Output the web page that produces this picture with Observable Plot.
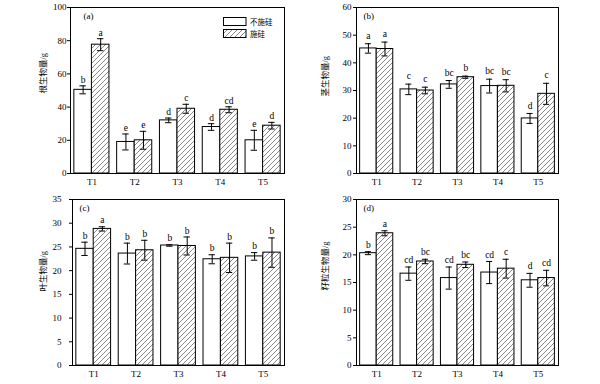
<!DOCTYPE html>
<html>
<head>
<meta charset="utf-8">
<script src="https://cdn.jsdelivr.net/npm/d3@7"></script>
<script src="https://cdn.jsdelivr.net/npm/@observablehq/plot@0.6"></script>
<style>
  html, body { margin: 0; padding: 0; background: white; }
  #chart { position: relative; width: 600px; height: 384px; background: white; overflow: hidden; }
  #chart svg.panel { position: absolute; }
  #legend { position: absolute; left: 223px; top: 15px; font-family: "Liberation Serif", "Noto Sans CJK SC", serif; font-size: 7.5px; color: black; }
</style>
</head>
<body>
<div id="chart"></div>
<script>
// ---------- data ----------
const groups = ["T1", "T2", "T3", "T4", "T5"];
const seriesNames = ["不施硅", "施硅"];

// (a) root
const rootNo = [50.4, 19.0, 32.0, 28.0, 20.0];
const rootNoErr = [2.4, 4.8, 1.4, 2.0, 6.0];
const rootSi = [77.6, 20.0, 39.0, 38.4, 28.8];
const rootSiErr = [3.6, 5.4, 2.7, 1.8, 2.0];
const rootNoSig = ["b", "e", "d", "d", "e"];
const rootSiSig = ["a", "e", "c", "cd", "d"];
const rootTicks = [0, 20, 40, 60, 80, 100];

// (b) stem
const stemNo = [45.2, 30.4, 32.2, 31.6, 19.9];
const stemNoErr = [1.7, 1.9, 1.4, 2.5, 1.8];
const stemSi = [45.0, 30.0, 34.8, 31.7, 28.8];
const stemSiErr = [2.5, 1.2, 0.4, 2.2, 3.8];
const stemNoSig = ["a", "c", "bc", "bc", "d"];
const stemSiSig = ["a", "c", "b", "bc", "c"];
const stemTicks = [0, 10, 20, 30, 40, 50, 60];

// (c) leaf
const leafNo = [24.6, 23.6, 25.3, 22.4, 23.0];
const leafNoErr = [1.4, 2.2, 0.15, 0.95, 0.8];
const leafSi = [28.8, 24.3, 25.2, 22.7, 23.8];
const leafSiErr = [0.45, 2.1, 1.9, 3.1, 3.1];
const leafNoSig = ["b", "b", "b", "b", "b"];
const leafSiSig = ["a", "b", "b", "b", "b"];
const leafTicks = [0, 5, 10, 15, 20, 25, 30, 35];

// (d) grain
const grainNo = [20.3, 16.6, 15.8, 16.8, 15.4];
const grainNoErr = [0.27, 1.2, 2.0, 2.0, 1.25];
const grainSi = [23.9, 18.8, 18.2, 17.5, 15.8];
const grainSiErr = [0.45, 0.4, 0.5, 1.7, 1.4];
const grainNoSig = ["b", "cd", "cd", "cd", "d"];
const grainSiSig = ["a", "bc", "bc", "c", "cd"];
const grainTicks = [0, 5, 10, 15, 20, 25, 30];

const titles = ["根生物量/g", "茎生物量/g", "叶生物量/g", "籽粒生物量/g"];
const tags = ["(a)", "(b)", "(c)", "(d)"];

// ---------- drawing ----------
const FONT = '"Liberation Serif", "Noto Sans CJK SC", serif';
const chart = document.getElementById("chart");

function panel(cfg) {
  const f = 0.41;      // bar width in band units
  const cap = 0.075;   // half cap width
  const rows = [];
  groups.forEach((g, i) => {
    const c = i + 0.5;
    rows.push({g, s: 0, v: cfg.no[i], e: cfg.noErr[i], sig: cfg.noSig[i], x1: c - f, x2: c, m: c - f / 2});
    rows.push({g, s: 1, v: cfg.si[i], e: cfg.siErr[i], sig: cfg.siSig[i], x1: c, x2: c + f, m: c + f / 2});
  });
  const no = rows.filter(d => d.s === 0), si = rows.filter(d => d.s === 1);
  const ticks = cfg.ticks;
  const svg = Plot.plot({
    width: 300, height: 192,
    marginLeft: cfg.ml, marginRight: cfg.mr, marginTop: 7, marginBottom: 19,
    style: {fontFamily: FONT, fontSize: "9px", background: "white", color: "black", overflow: "visible"},
    x: {domain: [0, groups.length], ticks: groups.map((g, i) => i + 0.5), tickFormat: d => groups[Math.floor(d)], tickSize: 0, tickPadding: 5, label: null},
    y: {domain: [ticks[0], ticks[ticks.length - 1]], ticks: ticks, tickSize: 3, tickPadding: cfg.tp, label: null},
    marks: [
      Plot.rectY(no, {x1: "x1", x2: "x2", y1: 0, y2: "v", fill: "white", stroke: "black", strokeWidth: 1}),
      Plot.rectY(si, {x1: "x1", x2: "x2", y1: 0, y2: "v", fill: `url(#${cfg.id})`, stroke: "black", strokeWidth: 1}),
      Plot.ruleX(rows, {x: "m", y1: d => d.v - d.e, y2: d => d.v + d.e, stroke: "black", strokeWidth: 1}),
      Plot.ruleY(rows, {y: d => d.v + d.e, x1: d => d.m - cap, x2: d => d.m + cap, stroke: "black", strokeWidth: 1}),
      Plot.ruleY(rows, {y: d => d.v - d.e, x1: d => d.m - cap, x2: d => d.m + cap, stroke: "black", strokeWidth: 1}),
      Plot.text(rows, {x: "m", y: d => d.v + d.e, text: "sig", dy: cfg.sigDy, lineAnchor: "middle", fontSize: 9.5, fill: "black"}),
      Plot.frame({stroke: "black", strokeWidth: 1}),
      Plot.text([cfg.tag], {text: d => d, frameAnchor: "top-left", dx: cfg.tagDx, dy: 9, textAnchor: "start", lineAnchor: "middle", fontSize: 9, fill: "black"}),
      Plot.text([cfg.title], {text: d => d, frameAnchor: "left", rotate: -90, dx: cfg.titleDx, dy: cfg.titleDy, fontSize: 8.5, fill: "black"})
    ]
  });
  d3.select(svg).insert("defs", ":first-child").html(
    `<pattern id="${cfg.id}" patternUnits="userSpaceOnUse" width="5" height="5">` +
    `<rect width="5" height="5" fill="white"/>` +
    `<path d="M-1,1 l2,-2 M0,5 l5,-5 M4,6 l2,-2" stroke="#6a6a6a" stroke-width="0.8"/></pattern>`);
  svg.classList.add("panel");
  svg.style.left = cfg.left + "px";
  svg.style.top = cfg.top + "px";
  chart.appendChild(svg);
}

panel({id: "hA", left: 0, top: 0, ml: 70, mr: 16, tp: 1, no: rootNo, noErr: rootNoErr, si: rootSi, siErr: rootSiErr,
  noSig: rootNoSig, siSig: rootSiSig, ticks: rootTicks, title: titles[0], tag: tags[0], tagDx: 13, titleDx: -27, titleDy: 3, sigDy: -6});
panel({id: "hB", left: 300, top: 0, ml: 56, mr: 42, tp: 2, no: stemNo, noErr: stemNoErr, si: stemSi, siErr: stemSiErr,
  noSig: stemNoSig, siSig: stemSiSig, ticks: stemTicks, title: titles[1], tag: tags[1], tagDx: 7, titleDx: -31, titleDy: 6, sigDy: -8});
panel({id: "hC", left: 0, top: 192, ml: 72, mr: 16, tp: 8, no: leafNo, noErr: leafNoErr, si: leafSi, siErr: leafSiErr,
  noSig: leafNoSig, siSig: leafSiSig, ticks: leafTicks, title: titles[2], tag: tags[2], tagDx: 7, titleDx: -29, titleDy: 9, sigDy: -6.5});
panel({id: "hD", left: 300, top: 192, ml: 56, mr: 42, tp: 2, no: grainNo, noErr: grainNoErr, si: grainSi, siErr: grainSiErr,
  noSig: grainNoSig, siSig: grainSiSig, ticks: grainTicks, title: titles[3], tag: tags[3], tagDx: 7, titleDx: -31, titleDy: 8, sigDy: -7});

// legend for panel (a)
const legend = document.createElement("div");
legend.id = "legend";
legend.innerHTML = seriesNames.map((name, i) =>
  `<div style="display:flex;align-items:center;height:12.5px">` +
  `<svg width="24" height="9" style="margin-right:3px"><rect x="0.5" y="0.5" width="22.5" height="8" fill="${i ? "url(#hA)" : "white"}" stroke="black" stroke-width="1"/></svg>` +
  `<span>${name}</span></div>`).join("");
chart.appendChild(legend);
</script>
</body>
</html>
